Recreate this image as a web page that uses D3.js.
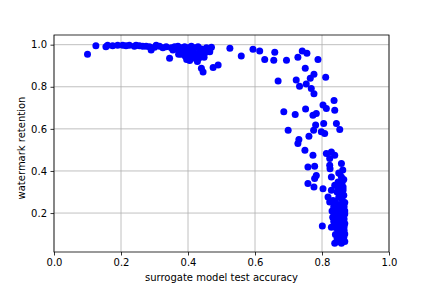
<!DOCTYPE html>
<html lang="en">
    <head>
        <meta charset="UTF-8" />
        <title>Watermark retention vs surrogate accuracy</title>
        <style>
            body {
                margin: 0;
                padding: 0;
                background-color: #ffffff;
            }
            svg text {
                font-family: 'DejaVu Sans', sans-serif;
            }
        </style>
    </head>
    <body>
        <div id="chart"></div>
        <script src="https://d3js.org/d3.v7.min.js"></script>
        <script>
            // surrogate model test accuracy (x) and watermark retention (y)
            const accuracy = [
                0.100, 0.125, 0.155, 0.160, 0.175, 0.190, 0.205, 0.215, 0.225, 0.240, 0.245, 0.255, 0.265, 0.275, 0.285, 0.290,
                0.300, 0.305, 0.315, 0.325, 0.335, 0.345, 0.350, 0.355, 0.360, 0.365, 0.370, 0.375, 0.380, 0.385, 0.390, 0.395,
                0.400, 0.400, 0.405, 0.410, 0.412, 0.415, 0.420, 0.425, 0.428, 0.430, 0.435, 0.440, 0.440, 0.445, 0.450, 0.455,
                0.465, 0.470, 0.475, 0.490, 0.525, 0.559, 0.594, 0.614, 0.629, 0.656, 0.659, 0.694, 0.728, 0.741, 0.755, 0.788,
                0.750, 0.669, 0.723, 0.733, 0.753, 0.765, 0.776, 0.811, 0.768, 0.776, 0.836, 0.803, 0.686, 0.720, 0.751, 0.773,
                0.783, 0.813, 0.838, 0.699, 0.805, 0.843, 0.853, 0.781, 0.775, 0.761, 0.798, 0.808, 0.728, 0.731, 0.749, 0.773,
                0.813, 0.828, 0.838, 0.758, 0.778, 0.823, 0.858, 0.824, 0.823, 0.853, 0.828, 0.858, 0.783, 0.778, 0.758, 0.776,
                0.803, 0.848, 0.863, 0.838, 0.828, 0.818, 0.833, 0.823, 0.801, 0.838, 0.858, 0.863, 0.828,
                0.845, 0.855, 0.865, 0.850, 0.860, 0.840, 0.868, 0.852, 0.862, 0.845, 0.858, 0.868, 0.840, 0.850, 0.862, 0.835,
                0.855, 0.866, 0.845, 0.858, 0.838, 0.868, 0.850, 0.860, 0.842, 0.855, 0.866, 0.848, 0.860, 0.840, 0.852, 0.865,
                0.845, 0.858, 0.850, 0.868, 0.866, 0.868, 0.866, 0.863, 0.855, 0.848, 0.860, 0.865, 0.850, 0.862, 0.835, 0.830,
                0.832, 0.835, 0.868,
                0.380, 0.392, 0.410, 0.420, 0.432, 0.405, 0.396, 0.418, 0.438, 0.372, 0.448
            ];
            const retention = [
                0.955, 0.995, 0.990, 0.997, 0.995, 0.997, 0.997, 0.995, 0.997, 0.993, 0.997, 0.995, 0.992, 0.993, 0.990, 0.975,
                0.988, 0.997, 0.993, 0.985, 0.990, 0.935, 0.985, 0.975, 0.990, 0.980, 0.993, 0.970, 0.985, 0.960, 0.990, 0.975,
                0.945, 0.985, 0.965, 0.993, 0.935, 0.975, 0.985, 0.950, 0.920, 0.990, 0.965, 0.980, 0.888, 0.870, 0.960, 0.985,
                0.967, 0.988, 0.892, 0.903, 0.983, 0.946, 0.978, 0.970, 0.930, 0.926, 0.964, 0.926, 0.940, 0.970, 0.959, 0.930,
                0.888, 0.827, 0.832, 0.803, 0.813, 0.840, 0.859, 0.845, 0.792, 0.767, 0.735, 0.713, 0.681, 0.668, 0.694, 0.665,
                0.673, 0.697, 0.689, 0.594, 0.626, 0.626, 0.597, 0.618, 0.594, 0.565, 0.586, 0.578, 0.530, 0.549, 0.499, 0.475,
                0.483, 0.490, 0.475, 0.419, 0.422, 0.459, 0.435, 0.411, 0.427, 0.388, 0.371, 0.371, 0.379, 0.364, 0.340, 0.324,
                0.316, 0.348, 0.324, 0.332, 0.308, 0.276, 0.260, 0.252, 0.138, 0.057, 0.057, 0.070, 0.133,
                0.300, 0.290, 0.285, 0.275, 0.265, 0.255, 0.250, 0.240, 0.232, 0.225, 0.215, 0.210, 0.205, 0.198, 0.190, 0.185,
                0.180, 0.172, 0.168, 0.160, 0.155, 0.150, 0.145, 0.138, 0.130, 0.122, 0.118, 0.110, 0.102, 0.098, 0.090, 0.085,
                0.078, 0.075, 0.065, 0.100, 0.135, 0.195, 0.230, 0.310, 0.315, 0.320, 0.345, 0.360, 0.390, 0.405, 0.230, 0.210,
                0.180, 0.160, 0.065,
                0.955, 0.945, 0.955, 0.940, 0.935, 0.925, 0.930, 0.960, 0.945, 0.955, 0.940
            ];
            const xTicks = [0.0, 0.2, 0.4, 0.6, 0.8, 1.0];
            const yTicks = [0.2, 0.4, 0.6, 0.8, 1.0];

            const width = 432;
            const height = 288;
            const plot = { left: 54, right: 389, top: 35, bottom: 252 };

            const svg = d3.select('#chart').append('svg').attr('width', width).attr('height', height);

            const x = d3.scaleLinear().domain([0, 1]).range([plot.left, plot.right]);
            const y = d3.scaleLinear().domain([0.015, 1.046]).range([plot.bottom, plot.top]);

            // grid
            svg.append('g')
                .selectAll('line')
                .data(xTicks)
                .join('line')
                .attr('x1', (d) => x(d)).attr('x2', (d) => x(d))
                .attr('y1', plot.top).attr('y2', plot.bottom)
                .attr('stroke', '#b0b0b0').attr('stroke-width', 0.8);
            svg.append('g')
                .selectAll('line')
                .data(yTicks)
                .join('line')
                .attr('x1', plot.left).attr('x2', plot.right)
                .attr('y1', (d) => y(d)).attr('y2', (d) => y(d))
                .attr('stroke', '#b0b0b0').attr('stroke-width', 0.8);

            const points = accuracy.map((a, i) => ({ a: a, r: retention[i] }));

            svg.append('g')
                .selectAll('circle')
                .data(points)
                .join('circle')
                .attr('cx', (d) => x(d.a))
                .attr('cy', (d) => y(d.r))
                .attr('r', 3.5)
                .attr('fill', '#0000ff');

            // frame
            svg.append('rect')
                .attr('x', plot.left).attr('y', plot.top)
                .attr('width', plot.right - plot.left).attr('height', plot.bottom - plot.top)
                .attr('fill', 'none').attr('stroke', '#000').attr('stroke-width', 0.8);

            const xAxis = svg.append('g')
                .attr('transform', `translate(0, ${plot.bottom})`)
                .call(d3.axisBottom(x).tickValues(xTicks).tickFormat(d3.format('.1f')).tickSize(3.5).tickPadding(3.5));
            const yAxis = svg.append('g')
                .attr('transform', `translate(${plot.left}, 0)`)
                .call(d3.axisLeft(y).tickValues(yTicks).tickFormat(d3.format('.1f')).tickSize(3.5).tickPadding(3.5));

            [xAxis, yAxis].forEach((g) => {
                g.select('.domain').remove();
                g.selectAll('.tick line').attr('stroke', '#000').attr('stroke-width', 0.8);
                g.selectAll('.tick text').attr('fill', '#000').style('font-size', '10px');
            });

            svg.append('text')
                .attr('x', (plot.left + plot.right) / 2)
                .attr('y', 281)
                .attr('text-anchor', 'middle')
                .style('font-size', '10px')
                .text('surrogate model test accuracy');

            svg.append('text')
                .attr('transform', 'translate(25, 148) rotate(-90)')
                .attr('text-anchor', 'middle')
                .style('font-size', '10px')
                .text('watermark retention');
        </script>
    </body>
</html>
